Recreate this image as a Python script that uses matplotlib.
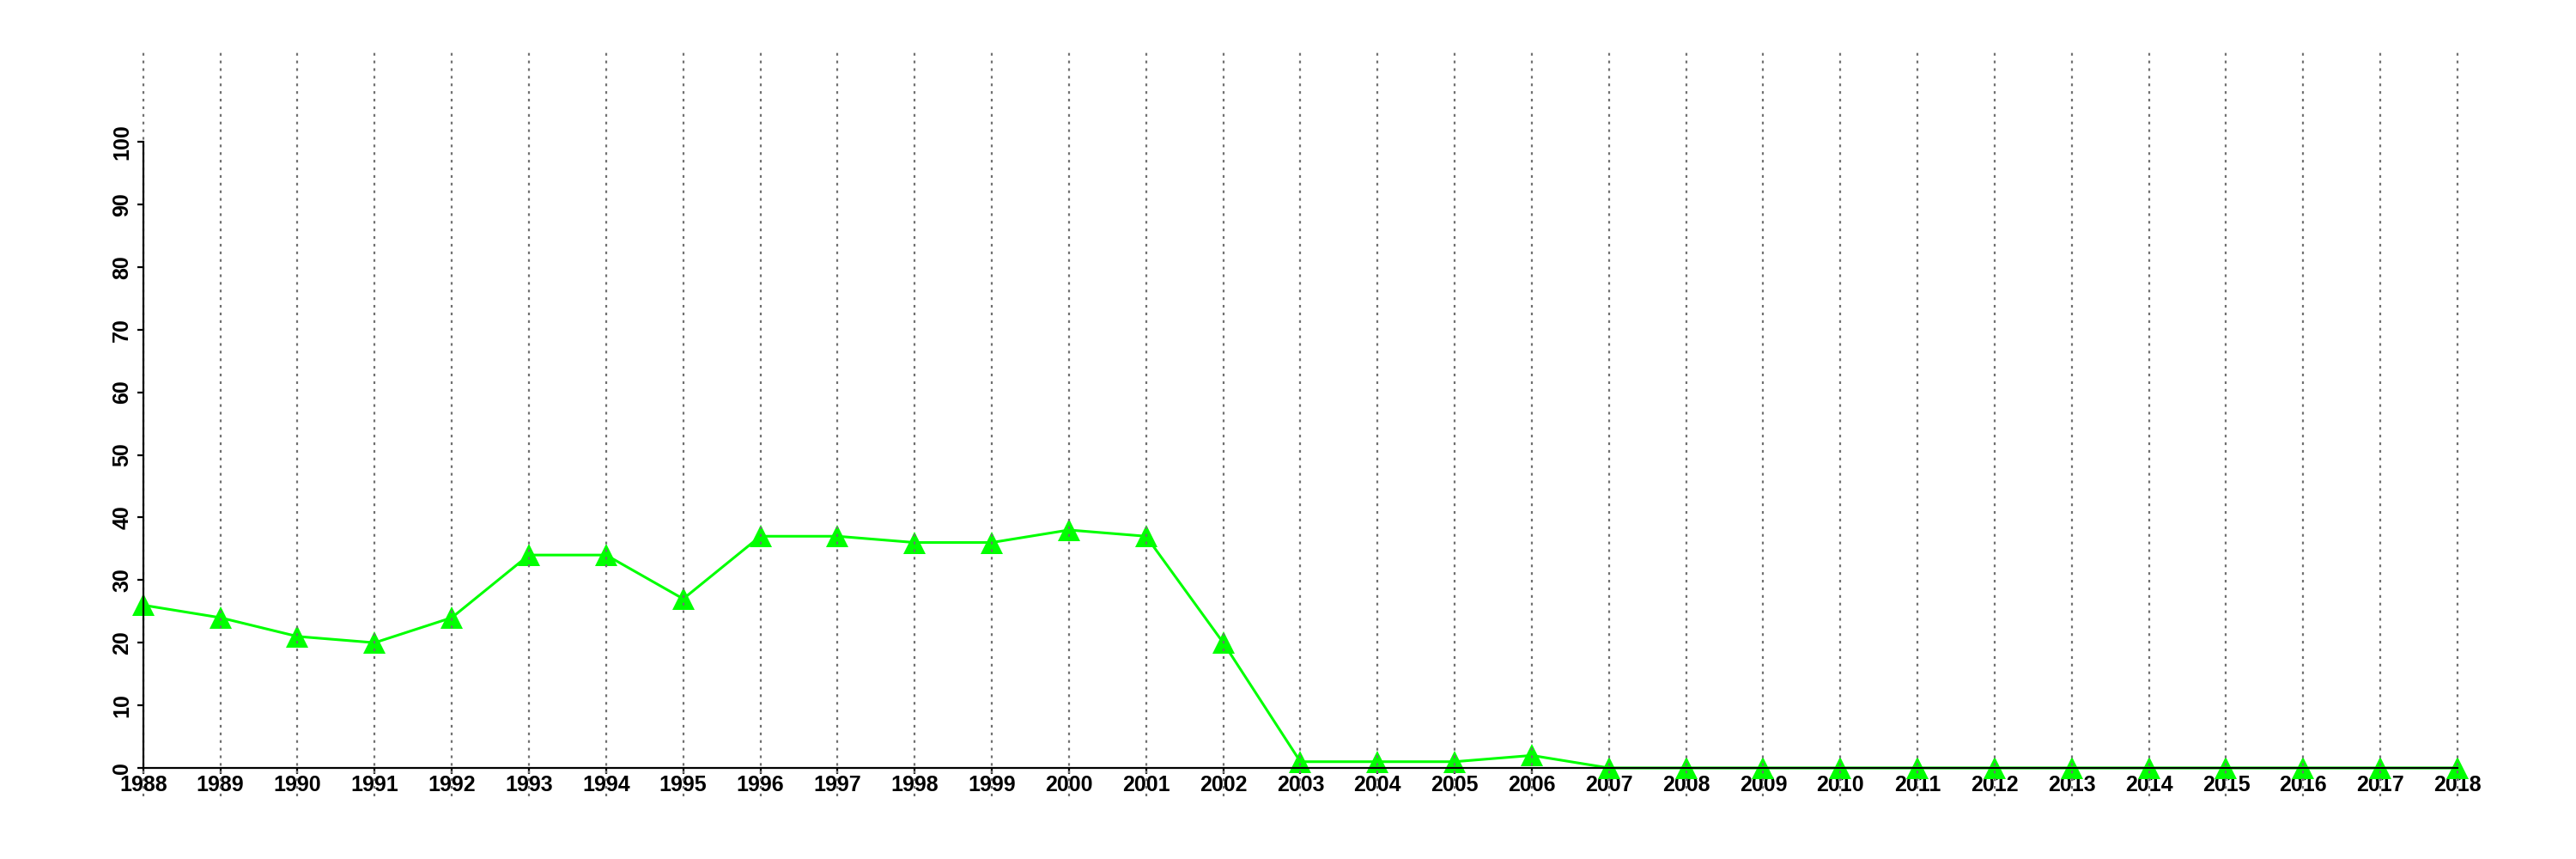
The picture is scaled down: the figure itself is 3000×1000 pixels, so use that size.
import numpy as np
import matplotlib
matplotlib.use('Agg')
from matplotlib import pyplot as plt

# years on the x axis and the single green series
years = list(range(1988, 2019))
values = [26, 24, 21, 20, 24, 34, 34, 27, 37, 37, 36, 36, 38, 37, 20,
          1, 1, 1, 2, 0, 0, 0, 0, 0, 0, 0, 0, 0, 0, 0, 0]
yticks = list(range(0, 101, 10))

plt.rcParams['font.family'] = ['Liberation Sans', 'DejaVu Sans']

fig = plt.figure(figsize=(30, 10), dpi=100)
ax = fig.add_axes([0.0556, 0.106, 0.954 - 0.0556, 0.835 - 0.106])

# vertical dotted guides, they run past the plot region on both ends
for yr in years:
	ax.axvline(yr, ymin=-0.045, ymax=1.144, color='#707070', lw=1.6,
	           dashes=(1.4, 2.6), clip_on=False, zorder=4)

ax.plot(years, values, color='#00ff00', lw=2.2, marker='^', markersize=19,
        markeredgewidth=0, clip_on=False, zorder=3)

ax.set_xlim(1988, 2018)
ax.set_ylim(0, 100)
ax.set_xticks(years)
ax.set_xticklabels([str(y) for y in years])
ax.set_yticks(yticks)
ax.set_yticklabels([str(v) for v in yticks], rotation=90, va='center')

for side in ['top', 'right']:
	ax.spines[side].set_visible(False)
ax.spines['left'].set_bounds(0, 100)
ax.spines['bottom'].set_bounds(1988, 2018)
for side in ['left', 'bottom']:
	ax.spines[side].set_linewidth(1.6)
	ax.spines[side].set_zorder(5)

ax.tick_params(axis='both', direction='out', length=5, width=1.6,
               labelsize=18)
ax.tick_params(axis='x', pad=0.5)
ax.tick_params(axis='y', pad=4)
for lab in ax.get_xticklabels() + ax.get_yticklabels():
	lab.set_fontweight('bold')

fig.savefig('out.png', dpi=100, facecolor='white')
